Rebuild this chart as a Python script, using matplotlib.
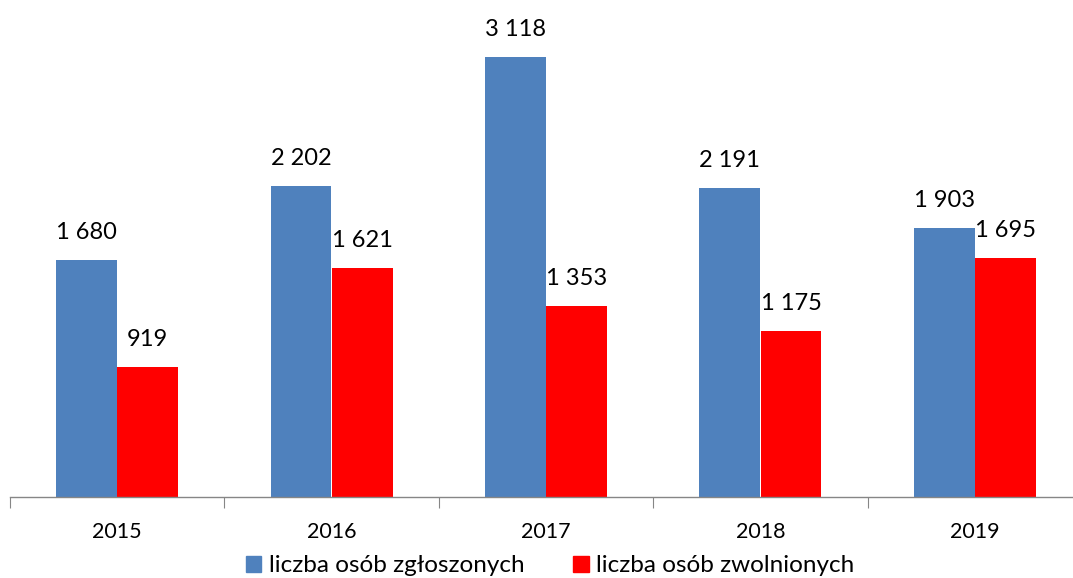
import matplotlib
matplotlib.use("Agg")
import matplotlib.pyplot as plt
import numpy as np
from matplotlib.patches import Patch

years = ["2015", "2016", "2017", "2018", "2019"]
zgloszone = [1680, 2202, 3118, 2191, 1903]
zwolnione = [919, 1621, 1353, 1175, 1695]
series_names = ["liczba osób zgłoszonych", "liczba osób zwolnionych"]
colors = ["#4F81BD", "#FF0000"]

plt.rcParams['font.family'] = ['Lato', 'DejaVu Sans']

W, H = 1073, 578
fig = plt.figure(figsize=(W / 100, H / 100), dpi=100)
ax = fig.add_axes([10 / W, 1 - 497 / H, 1072 / W, 497 / H])

x = np.arange(len(years))
bw = 0.284
off = 0.1425

def fmt(v):
    return f"{v:,}".replace(",", " ")

b1 = ax.bar(x - off, zgloszone, bw, color=colors[0])
b2 = ax.bar(x + off, zwolnione, bw, color=colors[1])
for bars, vals in ((b1, zgloszone), (b2, zwolnione)):
    for r, v in zip(bars, vals):
        ax.annotate(fmt(v), (r.get_x() + r.get_width() / 2, v), xytext=(0, 20),
                    textcoords="offset points", ha="center", va="center", fontsize=17)

ax.set_xlim(-0.5, 4.5)
ax.set_ylim(0, 3522)
for s in ["top", "right", "left"]:
    ax.spines[s].set_visible(False)
ax.spines["bottom"].set_color("#868686")
ax.spines["bottom"].set_linewidth(1)
ax.set_yticks([])
ax.set_xticks(np.arange(-0.5, 5.0, 1.0))
ax.set_xticklabels([])
ax.set_xticks(x, minor=True)
ax.set_xticklabels(years, minor=True, fontsize=15.5)
ax.tick_params(axis="x", which="major", length=8, color="#868686", direction="out")
ax.tick_params(axis="x", which="minor", length=0, pad=18)

handles = [Patch(color=c, label=n) for c, n in zip(colors, series_names)]
fig.legend(handles=handles, loc="center", bbox_to_anchor=(550 / W, 1 - 566 / H), ncol=2,
           frameon=False, fontsize=17.5, handlelength=0.65, handleheight=0.65,
           handletextpad=0.3, columnspacing=2.0, borderpad=0)

fig.savefig("out.png", dpi=100)
